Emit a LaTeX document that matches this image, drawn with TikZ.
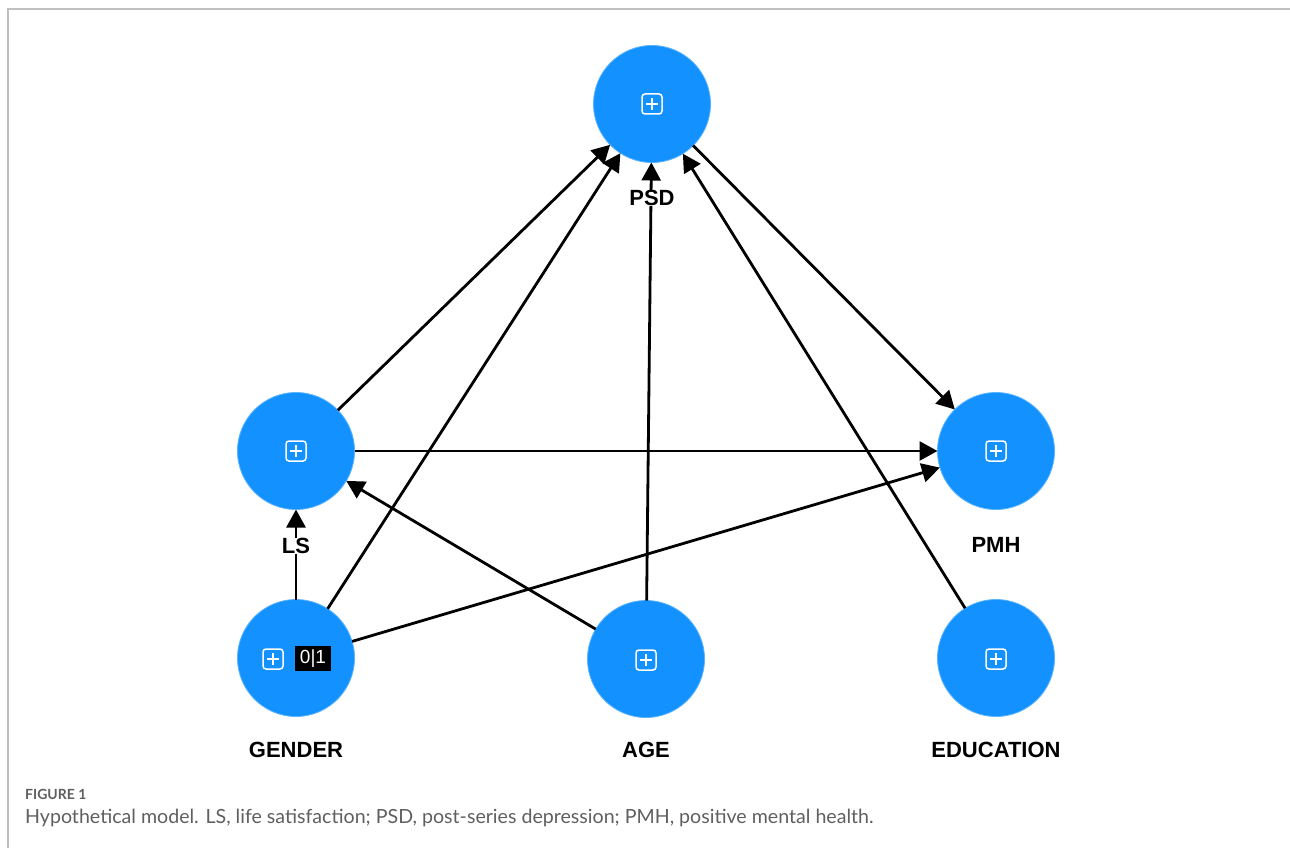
\documentclass[tikz,border=0pt]{standalone}
\usepackage{fontspec}
\setmainfont{Liberation Sans}
\newfontfamily\capfont{Lato}
\usetikzlibrary{arrows.meta}
\definecolor{nodeblue}{RGB}{19,146,255}
\definecolor{framegray}{RGB}{192,192,192}
\definecolor{capgray}{RGB}{95,95,95}
\tikzset{
  varnode/.style={circle, fill=nodeblue, draw=nodeblue!70!white, line width=0.8pt, minimum size=117pt, inner sep=0pt, outer sep=0pt},
  varlabel/.style={font=\fontsize{22}{24}\selectfont\bfseries, text=black, fill=white, inner xsep=2pt, inner ysep=0.5pt},
  path/.style={line width=2.8pt, draw=black, -{Triangle[length=18pt,width=19pt]}},
  pics/plusicon/.style={code={
    \draw[white, line width=1.5pt, rounded corners=3pt] (-10,-10) rectangle (10,10);
    \draw[white, line width=1.5pt] (-6,0) -- (6,0) (0,-6) -- (0,6);
  }},
  valbox/.style={fill=black, text=white, font=\fontsize{19}{20}\selectfont, minimum width=36pt, minimum height=25pt, inner sep=0pt}
}
\begin{document}
\begin{tikzpicture}[x=1pt,y=-1pt]
\useasboundingbox (0,0) rectangle (1290,848);
% frame
\draw[framegray, line width=2pt] (8,848) -- (8,9) -- (1290,9);
% variable nodes
\node[varnode] (psd) at (652,104) {};
\node[varnode] (ls) at (296,451) {};
\node[varnode] (pmh) at (996,451) {};
\node[varnode] (gender) at (296,658) {};
\node[varnode] (age) at (646,659) {};
\node[varnode] (edu) at (996,658) {};
% icons
\pic at (652,104) {plusicon};
\pic at (296,451) {plusicon};
\pic at (996,451) {plusicon};
\pic at (273,659) {plusicon};
\pic at (646,660) {plusicon};
\pic at (996,659) {plusicon};
\node[valbox] (val) at (313,658.5) {0|1};
% connectors
\draw[path] (ls) -- (psd);
\draw[path] (gender) -- (psd);
\draw[path] (age) -- (psd);
\draw[path] (edu) -- (psd);
\draw[path] (psd) -- (pmh);
\draw[path] (ls) -- (pmh);
\draw[path] (gender) -- (pmh);
\draw[path] (age) -- (ls);
\draw[path] (gender) -- (ls);
% labels
\node[varlabel] (psdl) at (652,198) {PSD};
\node[varlabel] (lsl) at (296,546) {LS};
\node[varlabel] (pmhl) at (996,545) {PMH};
\node[varlabel] (genderl) at (296,750) {GENDER};
\node[varlabel] (agel) at (646,750) {AGE};
\node[varlabel] (edul) at (996,750) {EDUCATION};
% caption
\node[anchor=west, inner sep=0pt, text=capgray, font=\capfont\fontsize{14}{15}\selectfont\bfseries] (fig) at (25,794) {FIGURE 1};
\node[anchor=west, inner sep=0pt, text=capgray, font=\capfont\fontsize{19.5}{21}\selectfont] (cap) at (25,818) {\scalebox{1.005}[1]{Hypothetical model. LS, life satisfaction; PSD, post-series depression; PMH, positive mental health.}};
\end{tikzpicture}
\end{document}
